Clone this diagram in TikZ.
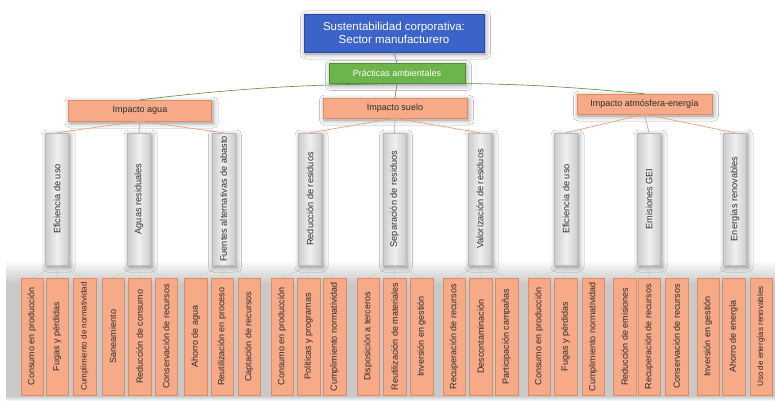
\documentclass[tikz,border=0pt]{standalone}
\usepackage{fontspec}
\setmainfont{Liberation Sans}
\usetikzlibrary{shadows.blur}
\definecolor{cblue}{HTML}{3B63C9}
\definecolor{cbluedk}{HTML}{2A4A9E}
\definecolor{cgreen}{HTML}{6DB54A}
\definecolor{cgreendk}{HTML}{4E8E34}
\definecolor{corange}{HTML}{F6AA88}
\definecolor{corangedk}{HTML}{E08A62}
\definecolor{cline}{HTML}{E9A27E}
\definecolor{ctext}{HTML}{2B2B2B}
\tikzset{
  softshadow/.style={blur shadow={shadow xshift=1.5pt, shadow yshift=-2pt, shadow blur radius=5pt, shadow opacity=45}},
  rootbox/.style={draw=cbluedk, fill=cblue, text=white, minimum width=180pt, minimum height=38pt, inner sep=1pt, align=center, font=\fontsize{11.5}{13.5}\selectfont, softshadow},
  mainbox/.style={draw=cgreendk, fill=cgreen, text=white, minimum width=136pt, minimum height=20pt, inner sep=1pt, font=\fontsize{9}{10}\selectfont, softshadow},
  impbox/.style={draw=corangedk, fill=corange, text=ctext, minimum height=21pt, inner sep=1pt, font=\fontsize{9}{10}\selectfont, softshadow},
  catbox/.style={draw=gray!55, left color=gray!40, right color=gray!40, middle color=gray!12, text=ctext, minimum width=23pt, minimum height=132pt, inner sep=0pt, font=\fontsize{9.2}{10}\selectfont, softshadow},
  leafbox/.style={draw=corangedk, fill=corange, text=ctext, minimum width=22.5pt, minimum height=117pt, inner sep=0pt, font=\fontsize{9}{10}\selectfont},
  smalltext/.style={font=\fontsize{8}{9}\selectfont},
  greenlink/.style={draw=cgreen!80!black, line width=0.6pt},
  bluelink/.style={draw=cbluedk!70, line width=0.6pt},
  orangelink/.style={draw=cline, line width=0.7pt},
  greylink/.style={draw=gray!40, line width=0.5pt}
}
\begin{document}
\begin{tikzpicture}[x=1pt,y=-1pt]
\useasboundingbox (0,0) rectangle (775,401);
\fill[white] (0,0) rectangle (775,401);
% shadow band behind the leaves
\shade[top color=white, bottom color=gray!42] (6,260) rectangle (775,283);
\fill[gray!42] (6,283) rectangle (775,396);
\shade[top color=gray!42, bottom color=white] (6,396) rectangle (775,401);

% top levels
\node[rootbox] (root) at (394,33) {Sustentabilidad corporativa:\\Sector manufacturero};
\node[mainbox] (prac) at (397,73.5) {Prácticas ambientales};
\node[impbox, minimum width=143pt] (agua) at (140,110.5) {Impacto agua};
\node[impbox, minimum width=144pt, minimum height=20pt] (suelo) at (395,108) {Impacto suelo};
\node[impbox, minimum width=135pt, minimum height=20pt] (atm) at (644.5,104) {Impacto atmósfera-energía};

% categories
\node[catbox] (c1) at (57,199) {\rotatebox{90}{Eficiencia de uso}};
\node[catbox] (c2) at (139,199) {\rotatebox{90}{Aguas residuales}};
\node[catbox] (c3) at (223.5,199) {\rotatebox{90}{Fuentes alternativas de abasto}};
\node[catbox] (c4) at (310,199) {\rotatebox{90}{Reducción de residuos}};
\node[catbox] (c5) at (394.5,199) {\rotatebox{90}{Separación de residuos}};
\node[catbox] (c6) at (480,199) {\rotatebox{90}{Valorización de residuos}};
\node[catbox] (c7) at (566,199) {\rotatebox{90}{Eficiencia de uso}};
\node[catbox] (c8) at (649,199) {\rotatebox{90}{Emisiones GEI}};
\node[catbox] (c9) at (735,199) {\rotatebox{90}{Energías renovables}};

% leaves
\node[leafbox] (l11) at (32,336.5) {\rotatebox{90}{Consumo en producción}};
\node[leafbox] (l12) at (57,336.5) {\rotatebox{90}{Fugas y pérdidas}};
\node[leafbox, smalltext] (l13) at (84.5,336.5) {\rotatebox{90}{Cumplimiento de normatividad}};
\node[leafbox] (l21) at (113,336.5) {\rotatebox{90}{Saneamiento}};
\node[leafbox] (l22) at (139.5,336.5) {\rotatebox{90}{Reducción de consumo}};
\node[leafbox] (l23) at (166,336.5) {\rotatebox{90}{Conservación de recursos}};
\node[leafbox] (l31) at (195.5,336.5) {\rotatebox{90}{Ahorro de agua}};
\node[leafbox] (l32) at (222,336.5) {\rotatebox{90}{Reutilización en proceso}};
\node[leafbox] (l33) at (249,336.5) {\rotatebox{90}{Captación de recursos}};
\node[leafbox] (l41) at (282,336.5) {\rotatebox{90}{Consumo en producción}};
\node[leafbox] (l42) at (308.5,336.5) {\rotatebox{90}{Políticas y programas}};
\node[leafbox] (l43) at (334.5,336.5) {\rotatebox{90}{Cumplimiento normatividad}};
\node[leafbox] (l51) at (368,336.5) {\rotatebox{90}{Disposición a terceros}};
\node[leafbox] (l52) at (394.5,336.5) {\rotatebox{90}{Reutilización de materiales}};
\node[leafbox] (l53) at (421.5,336.5) {\rotatebox{90}{Inversión en gestión}};
\node[leafbox] (l61) at (454,336.5) {\rotatebox{90}{Recuperación de recursos}};
\node[leafbox] (l62) at (480.5,336.5) {\rotatebox{90}{Descontaminación}};
\node[leafbox] (l63) at (506.5,336.5) {\rotatebox{90}{Participación campañas}};
\node[leafbox] (l71) at (539,336.5) {\rotatebox{90}{Consumo en producción}};
\node[leafbox] (l72) at (565.5,336.5) {\rotatebox{90}{Fugas y pérdidas}};
\node[leafbox] (l73) at (593,336.5) {\rotatebox{90}{Cumplimiento normatividad}};
\node[leafbox] (l81) at (624.5,336.5) {\rotatebox{90}{Reducción de emisiones}};
\node[leafbox] (l82) at (649,336.5) {\rotatebox{90}{Recuperación de recursos}};
\node[leafbox] (l83) at (676.5,336.5) {\rotatebox{90}{Conservación de recursos}};
\node[leafbox] (l91) at (708,336.5) {\rotatebox{90}{Inversión en gestión}};
\node[leafbox] (l92) at (733.5,336.5) {\rotatebox{90}{Ahorro de energía}};
\node[leafbox, smalltext] (l93) at (761,336.5) {\rotatebox{90}{Uso de energías renovables}};

% connectors
\draw[bluelink] (root.south) -- (prac.north);
\draw[greenlink] (prac.south) -- (suelo.north);
\draw[greenlink] (prac.south) to[bend right=3] (agua.north);
\draw[greenlink] (prac.south) to[bend left=3] (atm.north);
\foreach \c in {c1,c2,c3} \draw[orangelink] (agua.south) -- (\c.north);
\foreach \c in {c4,c5,c6} \draw[orangelink] (suelo.south) -- (\c.north);
\foreach \c in {c7,c8,c9} \draw[orangelink] (atm.south) -- (\c.north);
\foreach \c/\n in {c1/1,c2/2,c3/3,c4/4,c5/5,c6/6,c7/7,c8/8,c9/9}
  \foreach \k in {1,2,3} \draw[greylink] (\c.south) -- (l\n\k.north);
\end{tikzpicture}
\end{document}
